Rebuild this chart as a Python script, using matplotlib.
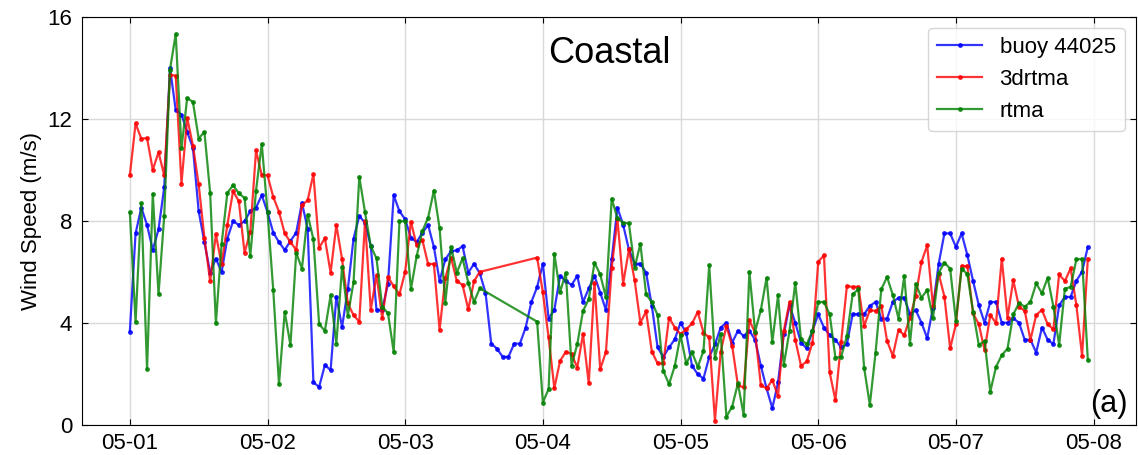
import pandas as pd
import matplotlib
matplotlib.use("Agg")
import matplotlib.pyplot as plt
import matplotlib.dates as mdates

plt.rcParams['font.family'] = ['Liberation Sans', 'DejaVu Sans']

# hourly wind speed (m/s), 05-01 00:00 .. 05-07 23:00, one row per day
buoy = [
    3.66, 7.51, 8.52, 7.84, 6.86, 7.67, 9.32, 14.0, 12.34, 12.17, 11.49, 10.86, 8.38, 7.17, 5.97, 6.52, 6.0, 7.31, 7.99, 7.84, 7.99, 8.38, 8.52, 9.01,
    8.34, 7.54, 7.17, 6.86, 7.21, 7.54, 8.71, 7.69, 1.67, 1.49, 2.35, 2.15, 5.03, 3.84, 5.32, 7.31, 8.19, 7.93, 7.01, 4.51, 4.51, 5.54, 9.0, 8.38,
    8.06, 7.34, 7.17, 7.54, 7.84, 6.98, 5.65, 6.49, 6.82, 6.84, 7.01, 5.97, 6.32, 5.95, 5.19, 3.19, 2.99, 2.67, 2.67, 3.19, 3.19, 3.82, 4.82, 5.41,
    6.32, 4.17, 4.51, 5.84, 5.64, 5.49, 5.84, 4.82, 5.35, 5.84, 5.19, 4.5, 6.49, 8.52, 7.84, 6.88, 6.32, 6.32, 5.97, 4.67, 3.04, 2.67, 3.04, 3.36,
    4.01, 3.6, 2.32, 1.99, 1.82, 2.67, 3.16, 3.82, 4.01, 3.23, 3.69, 3.49, 3.69, 3.34, 2.32, 1.43, 0.66, 1.67, 3.56, 4.69, 4.01, 3.23, 3.0, 3.69,
    4.34, 3.82, 3.52, 3.34, 3.04, 3.17, 4.34, 4.34, 4.34, 4.67, 4.82, 4.17, 4.17, 4.82, 4.99, 4.99, 4.34, 4.5, 4.01, 3.4, 4.6, 6.32, 7.51, 7.51,
    6.98, 7.51, 6.66, 5.64, 4.69, 4.01, 4.82, 4.82, 4.01, 4.01, 4.18, 4.01, 3.34, 3.34, 2.84, 3.82, 3.34, 3.17, 4.69, 5.02, 5.02, 5.65, 6.01, 6.98,
]

rtma3d = [
    9.78, 11.82, 11.22, 11.25, 10.0, 10.69, 9.78, 13.73, 13.69, 9.46, 12.04, 10.95, 9.43, 7.34, 5.64, 7.47, 6.3, 7.84, 9.17, 8.77, 6.75, 7.57, 10.76, 9.79,
    9.79, 8.94, 8.36, 7.51, 7.17, 6.86, 8.61, 8.81, 9.84, 6.95, 7.32, 5.97, 7.84, 6.49, 4.77, 4.3, 4.05, 7.99, 4.51, 5.88, 4.18, 5.8, 5.44, 5.12,
    6.01, 7.97, 7.04, 7.25, 6.3, 6.32, 3.73, 5.77, 6.56, 5.64, 5.49, 4.53, 5.64, 6.0, None, None, None, None, None, None, None, None, None, 6.56,
    5.2, 3.43, 1.44, 2.51, 2.87, 2.78, 2.25, 3.56, 1.63, 5.58, 2.19, 2.87, 6.17, 8.06, 5.54, 6.88, 5.67, 4.01, 4.45, 2.88, 2.41, 2.41, 4.21, 3.82,
    3.56, 3.75, 3.98, 4.43, 3.62, 3.43, 0.17, 2.87, 3.88, 3.1, 1.56, 1.47, 4.1, 3.62, 1.56, 1.43, 1.76, 1.14, 3.69, 4.82, 3.34, 2.32, 2.49, 3.23,
    6.4, 6.65, 2.06, 0.97, 3.26, 5.45, 5.41, 5.42, 3.88, 4.5, 4.47, 4.67, 3.3, 2.71, 3.73, 3.52, 4.21, 5.06, 6.39, 7.04, 4.67, 5.93, 5.03, 3.0,
    3.95, 6.23, 6.23, 4.37, 3.95, 2.93, 4.31, 3.99, 6.52, 4.21, 5.67, 4.64, 4.47, 3.34, 4.31, 4.51, 3.95, 3.75, 5.9, 5.64, 6.14, 4.71, 2.71, 6.52,
]

rtma = [
    8.34, 4.04, 8.71, 2.19, 9.06, 5.12, 8.21, 13.93, 15.33, 10.84, 12.82, 12.66, 11.23, 11.49, 9.1, 3.99, 7.1, 9.1, 9.4, 9.08, 8.9, 6.62, 9.19, 11.02,
    8.34, 5.29, 1.6, 4.44, 3.13, 6.75, 6.13, 8.25, 7.28, 3.95, 3.69, 5.08, 3.19, 6.2, 4.28, 5.6, 9.73, 8.34, 7.01, 6.53, 4.64, 4.38, 2.86, 7.99,
    7.99, 5.32, 6.62, 7.6, 8.13, 9.19, 7.71, 4.8, 6.98, 5.97, 6.53, 5.58, 4.82, 5.36, None, None, None, None, None, None, None, None, None, 4.05,
    0.88, 1.41, 6.71, 5.21, 5.97, 2.32, 3.17, 4.47, 4.93, 6.36, 5.9, 5.0, 8.87, 8.1, 7.93, 7.9, 6.17, 7.1, 5.12, 4.82, 4.31, 2.12, 1.6, 2.32,
    3.52, 2.41, 2.85, 2.28, 2.9, 6.26, 2.64, 3.58, 0.32, 0.72, 1.63, 0.4, 6.0, 3.66, 4.51, 5.77, 3.25, 5.08, 2.35, 3.69, 5.58, 3.36, 3.16, 3.69,
    4.82, 4.82, 4.34, 2.64, 2.67, 3.49, 5.12, 5.32, 2.25, 0.79, 2.84, 5.32, 5.8, 5.1, 4.17, 5.84, 3.19, 5.54, 4.99, 5.29, 4.18, 5.97, 6.36, 6.13,
    4.08, 6.13, 5.91, 4.44, 3.13, 3.3, 1.31, 2.28, 2.74, 2.99, 4.34, 4.77, 4.64, 4.82, 5.55, 5.16, 5.77, 4.64, 3.13, 5.34, 5.41, 6.49, 6.51, 2.55,
]

times = pd.date_range('2022-05-01 00:00', periods=len(buoy), freq='h')

series = [
    ('buoy 44025', buoy, 'b'),
    ('3drtma', rtma3d, 'r'),
    ('rtma', rtma, 'g'),
]

fig = plt.figure(figsize=(11.38, 4.55), dpi=100)
ax = fig.add_axes([0.072, 0.066, 0.926, 0.897])

for name, vals, color in series:
    # missing hours are dropped, so the line just bridges the gap
    s = pd.Series(vals, index=times, dtype=float).dropna()
    ax.plot(s.index, s.values, color=color, marker='o', markersize=2.5,
            linewidth=1.6, alpha=0.8, label=name)

ax.set_ylim(0, 16)
ax.set_yticks([0, 4, 8, 12, 16])
ax.xaxis.set_major_locator(mdates.DayLocator())
ax.xaxis.set_major_formatter(mdates.DateFormatter('%m-%d'))
ax.grid(color='0.85', linewidth=1)
ax.set_axisbelow(True)
ax.tick_params(direction='in', top=True, right=True, labelsize=16, length=4)
ax.tick_params(axis='y', pad=7)
ax.tick_params(axis='x', pad=6)
ax.set_ylabel('Wind Speed (m/s)', fontsize=16)

ax.text(0.5, 0.91, 'Coastal', transform=ax.transAxes, ha='center', va='center', fontsize=26)
ax.text(0.992, 0.015, '(a)', transform=ax.transAxes, ha='right', va='bottom', fontsize=22)
ax.legend(loc='upper right', fontsize=16)

fig.savefig('out.png', dpi=100)
